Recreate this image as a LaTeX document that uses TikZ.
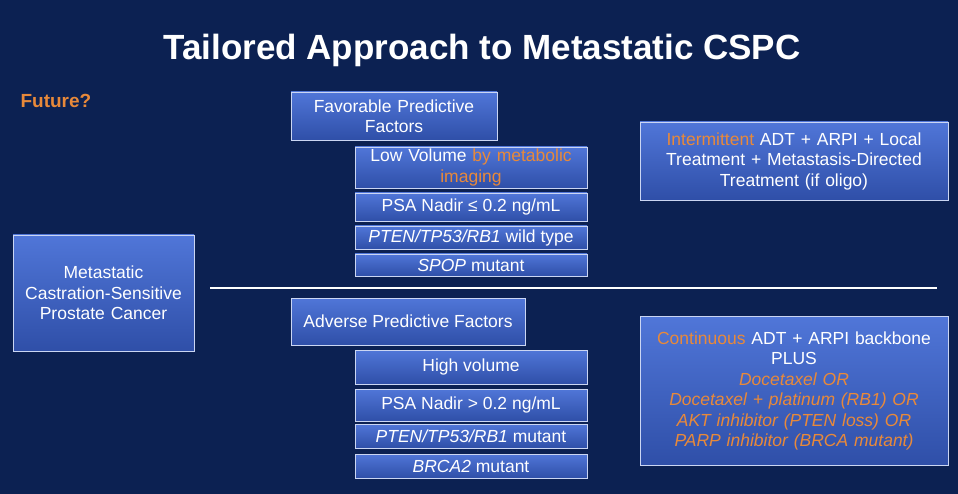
\documentclass[tikz,border=0pt]{standalone}
\usepackage{fontspec}
\setmainfont{Liberation Sans}
\usetikzlibrary{positioning}
\definecolor{bg}{HTML}{0C2152}
\definecolor{boxtop}{HTML}{5076D8}
\definecolor{boxbot}{HTML}{2F4FA8}
\definecolor{orng}{HTML}{E8893A}
\tikzset{
 bx/.style={draw=white!70!boxtop, line width=0.8pt, top color=boxtop, bottom color=boxbot,
   text=white, align=center, inner sep=1pt, font=\fontsize{17.5}{20.5}\selectfont},
}
\newcommand{\og}[1]{\textcolor{orng}{#1}}
\begin{document}
\begin{tikzpicture}[x=1pt,y=-1pt]
\fill[bg] (0,0) rectangle (958,494);
\useasboundingbox (0,0) rectangle (958,494);
\node[text=white,font=\bfseries\fontsize{35}{40}\selectfont] (title) at (482,50) {Tailored Approach to Metastatic CSPC};
\node[text=orng,font=\bfseries\fontsize{19}{22}\selectfont,anchor=west] (fut) at (17,101) {Future?};
\node[bx,minimum width=181,minimum height=116,text width=178] (mcspc) at (103.5,293) {Metastatic\\Castration-Sensitive\\Prostate Cancer};
\node[bx,minimum width=206,minimum height=48,text width=204] (fav) at (394,116) {Favorable Predictive\\Factors};
\node[bx,minimum width=232,minimum height=41,text width=230] (lowv) at (471,167.5) {Low Volume \og{by metabolic\\imaging}};
\node[bx,minimum width=232,minimum height=28] (psa1) at (471,207) {PSA Nadir ≤ 0.2 ng/mL};
\node[bx,minimum width=232,minimum height=23] (pten1) at (471,237.5) {\textit{PTEN/TP53/RB1} wild type};
\node[bx,minimum width=232,minimum height=22] (spop) at (471,265) {\textit{SPOP} mutant};
\coordinate (la) at (210,288);
\coordinate (lb) at (937,288);
\draw[white,line width=1.5pt] (la) -- (lb);
\node[bx,minimum width=234,minimum height=47] (adv) at (408,321.5) {Adverse Predictive Factors};
\node[bx,minimum width=232,minimum height=34] (high) at (471,367) {High volume};
\node[bx,minimum width=232,minimum height=32] (psa2) at (471,405) {PSA Nadir > 0.2 ng/mL};
\node[bx,minimum width=232,minimum height=24] (pten2) at (471,436) {\textit{PTEN/TP53/RB1} mutant};
\node[bx,minimum width=232,minimum height=24] (brca) at (471,466) {\textit{BRCA2} mutant};
\node[bx,minimum width=308,minimum height=78,text width=306] (rt) at (794,161) {\og{Intermittent} ADT + ARPI + Local\\Treatment + Metastasis-Directed\\Treatment (if oligo)};
\node[bx,minimum width=308,minimum height=149,text width=306,anchor=north] (rb) at (794,316) {\og{Continuous} ADT + ARPI backbone\\PLUS\\\og{\itshape Docetaxel OR}\\\og{\itshape Docetaxel + platinum (RB1) OR}\\\og{\itshape AKT inhibitor (PTEN loss) OR}\\\og{\itshape PARP inhibitor (BRCA mutant)}};
\end{tikzpicture}
\end{document}
